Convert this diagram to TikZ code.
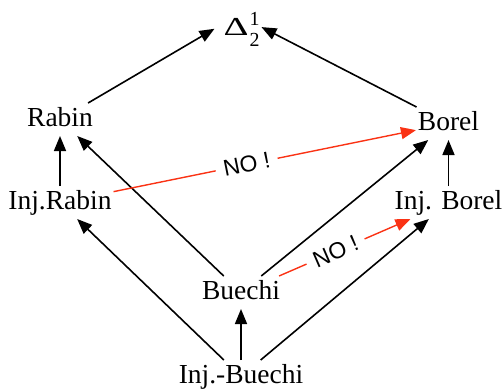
\documentclass[tikz,border=0pt]{standalone}
\usepackage{graphicx}
\usepackage{fontspec}
\setmainfont{Liberation Serif}
\newfontfamily\labelfont{Liberation Sans}
\usetikzlibrary{arrows.meta}
\definecolor{nored}{RGB}{250,50,20}
\begin{document}
\begin{tikzpicture}[x=1bp,y=-1bp,
  lbl/.style={anchor=base, inner sep=2bp, outer sep=0pt, text height=21bp, text depth=8bp,
    font=\fontsize{27.6}{30}\selectfont},
  arr/.style={-{Triangle[length=15bp,width=12bp]}, line width=1.6bp, draw=black},
  noarr/.style={-{Triangle[length=15bp,width=12bp]}, line width=1.4bp, draw=nored},
  nolabel/.style={sloped, fill=white, text=black, font=\labelfont\fontsize{23}{25}\selectfont,
    inner xsep=8bp, inner ysep=2bp}
]
\useasboundingbox (0,0) rectangle (503,388);

\node[anchor=center, outer sep=0pt, inner ysep=0pt, inner xsep=12bp, text height=40bp, text depth=0bp] (D) at (238,15)
  {\kern-3bp\scalebox{1.5}[1]{\fontsize{26}{26}\selectfont Δ}\kern1bp\rlap{\raisebox{10bp}{\fontsize{20}{20}\selectfont 1}}\raisebox{-11bp}{\fontsize{20}{20}\selectfont 2}\kern-10bp};
\node[lbl] (R)   at (60,126)  {Rabin};
\node[lbl] (B)   at (448.5,130) {Borel};
\node[lbl] (IR)  at (60,209)  {Inj.Rabin};
\node[lbl] (IB)  at (448.5,209) {Inj. Borel};
\node[lbl] (Bu)  at (241,299) {Buechi};
\node[lbl] (IBu) at (241,383) {Inj.-Buechi};

\draw[arr] (R) -- (D);
\draw[arr] (B) -- (D);
\draw[arr] (IR) -- (R);
\draw[arr] (IB) -- (B);
\draw[arr] (Bu) -- (R);
\draw[arr] (Bu) -- (B);
\draw[arr] (IBu) -- (IR);
\draw[arr] (IBu) -- (IB);
\draw[arr] (IBu) -- (Bu);

\draw[noarr] (IR) -- node[nolabel, pos=0.44] (n1) {NO !} (B);
\draw[noarr] (Bu) -- node[nolabel, pos=0.43] (n2) {NO !} (IB);
\end{tikzpicture}
\end{document}
